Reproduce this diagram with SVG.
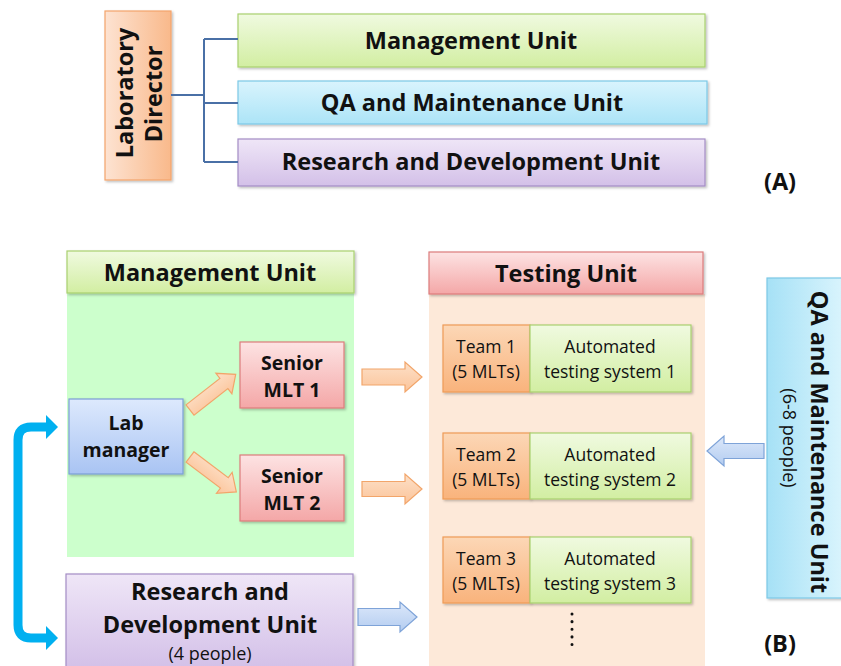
<svg xmlns="http://www.w3.org/2000/svg" width="841" height="666" viewBox="0 0 841 666">
  <defs>
    <linearGradient id="gGreen" x1="0" y1="0" x2="0" y2="1">
      <stop offset="0" stop-color="#f0fae0"/><stop offset="1" stop-color="#d2eea2"/>
    </linearGradient>
    <linearGradient id="gBlue" x1="0" y1="0" x2="0" y2="1">
      <stop offset="0" stop-color="#d9f4fd"/><stop offset="1" stop-color="#ace4f7"/>
    </linearGradient>
    <linearGradient id="gBlueH" x1="0" y1="0" x2="1" y2="0">
      <stop offset="0" stop-color="#a6e1f6"/><stop offset="1" stop-color="#dcf5fd"/>
    </linearGradient>
    <linearGradient id="gPurple" x1="0" y1="0" x2="0" y2="1">
      <stop offset="0" stop-color="#efe6f7"/><stop offset="1" stop-color="#d3c0e8"/>
    </linearGradient>
    <linearGradient id="gOrangeH" x1="0" y1="0" x2="1" y2="0">
      <stop offset="0" stop-color="#fde3d2"/><stop offset="1" stop-color="#f9b98b"/>
    </linearGradient>
    <linearGradient id="gRed" x1="0" y1="0" x2="0" y2="1">
      <stop offset="0" stop-color="#fde3e3"/><stop offset="1" stop-color="#f4a7a7"/>
    </linearGradient>
    <linearGradient id="gLab" x1="0" y1="0" x2="0" y2="1">
      <stop offset="0" stop-color="#dde9fd"/><stop offset="1" stop-color="#a9c4f3"/>
    </linearGradient>
    <linearGradient id="gTeam" x1="0" y1="0" x2="0" y2="1">
      <stop offset="0" stop-color="#fcd7b6"/><stop offset="1" stop-color="#f9b37c"/>
    </linearGradient>
    <linearGradient id="gArrowO" x1="0" y1="0" x2="0" y2="1">
      <stop offset="0" stop-color="#fde0c8"/><stop offset="1" stop-color="#fbc49a"/>
    </linearGradient>
    <linearGradient id="gArrowB" x1="0" y1="0" x2="0" y2="1">
      <stop offset="0" stop-color="#dce8fa"/><stop offset="1" stop-color="#b3ccf0"/>
    </linearGradient>
    <filter id="shadow" x="-10%" y="-10%" width="130%" height="130%">
      <feDropShadow dx="1.5" dy="1.5" stdDeviation="1.2" flood-color="#000" flood-opacity="0.25"/>
    </filter>
  </defs>
  <style>
    text { font-family: "Open Sans", "Liberation Sans", Arial, sans-serif; fill: #111; }
    .b { font-weight: bold; }
    .big { font-size: 23.5px; }
    .mid { font-size: 19.5px; }
    .sm { font-size: 17.5px; font-weight: normal; }
    .xs { font-size: 18px; font-weight: normal; }
    .box { stroke-width: 1.2; filter: url(#shadow); }
    .green { fill: url(#gGreen); stroke: #a9d06e; }
    .blue { fill: url(#gBlue); stroke: #7cc8e6; }
    .purple { fill: url(#gPurple); stroke: #a48dc5; }
    .orange { fill: url(#gOrangeH); stroke: #f4a46b; }
    .red { fill: url(#gRed); stroke: #dc7c7c; }
    .lab { fill: url(#gLab); stroke: #7c9ed6; }
    .team { fill: url(#gTeam); stroke: #ef9b57; }
    .tree { fill: none; stroke: #4a70a6; stroke-width: 2; }
    .arrO { fill: url(#gArrowO); stroke: #f2a56a; stroke-width: 1.2; }
    .arrB { fill: url(#gArrowB); stroke: #7ea3d8; stroke-width: 1.2; }
    .bracket { fill: none; stroke: #00b0f0; stroke-width: 9; }
  </style>

  <!-- (A) organisation chart -->
  <g id="lab-director">
    <rect class="box orange" x="105" y="11" width="66" height="169"/>
    <text class="b big" text-anchor="middle" transform="translate(133,93) rotate(-90)">Laboratory</text>
    <text class="b big" text-anchor="middle" transform="translate(162,94) rotate(-90)">Director</text>
  </g>
  <g id="management-unit-a">
    <rect class="box green" x="238" y="14" width="467" height="53"/>
    <text class="b big" x="471" y="49" text-anchor="middle">Management Unit</text>
  </g>
  <g id="qa-unit-a">
    <rect class="box blue" x="238" y="81" width="469" height="43"/>
    <text class="b big" x="472" y="111" text-anchor="middle">QA and Maintenance Unit</text>
  </g>
  <g id="rd-unit-a">
    <rect class="box purple" x="238" y="139" width="467" height="47"/>
    <text class="b big" x="471" y="170" text-anchor="middle">Research and Development Unit</text>
  </g>
  <text id="label-a" class="b big" x="780" y="190" text-anchor="middle">(A)</text>

  <!-- (B) unit structure -->
  <g id="management-unit-b">
    <rect x="67" y="293" width="287" height="264" fill="#ccffcc"/>
    <rect class="box green" x="67" y="251" width="287" height="42"/>
    <text class="b big" x="210" y="281" text-anchor="middle">Management Unit</text>
  </g>
  <g id="testing-unit">
    <rect x="429" y="294" width="276" height="372" fill="#fde9d9"/>
    <rect class="box red" x="429" y="252" width="274" height="42"/>
    <text class="b big" x="566" y="282" text-anchor="middle">Testing Unit</text>
  </g>
  <g id="lab-manager">
    <rect class="box lab" x="69" y="399" width="114" height="75"/>
    <text class="b mid" x="126" y="430" text-anchor="middle">Lab</text>
    <text class="b mid" x="126" y="457" text-anchor="middle">manager</text>
  </g>
  <g id="senior-mlt-1">
    <rect class="box red" x="240" y="342" width="104" height="66"/>
    <text class="b mid" x="292" y="370" text-anchor="middle">Senior</text>
    <text class="b mid" x="292" y="397" text-anchor="middle">MLT 1</text>
  </g>
  <g id="senior-mlt-2">
    <rect class="box red" x="240" y="455" width="104" height="66"/>
    <text class="b mid" x="292" y="483" text-anchor="middle">Senior</text>
    <text class="b mid" x="292" y="510" text-anchor="middle">MLT 2</text>
  </g>
  <g id="rd-unit-b">
    <rect class="box purple" x="66" y="574" width="287" height="95"/>
    <text class="b big" x="210" y="600" text-anchor="middle">Research and</text>
    <text class="b big" x="210" y="633" text-anchor="middle">Development Unit</text>
    <text class="xs" x="210" y="660" text-anchor="middle">(4 people)</text>
  </g>
  <g id="team-1">
    <rect class="box team" x="443" y="325" width="87" height="67"/>
    <rect class="box green" x="530" y="325" width="161" height="67"/>
    <text class="sm" x="486" y="353" text-anchor="middle">Team 1</text>
    <text class="sm" x="486" y="378" text-anchor="middle">(5 MLTs)</text>
    <text class="sm" x="610" y="353" text-anchor="middle">Automated</text>
    <text class="sm" x="610" y="378" text-anchor="middle">testing system 1</text>
  </g>
  <g id="team-2">
    <rect class="box team" x="443" y="433" width="87" height="66"/>
    <rect class="box green" x="530" y="433" width="161" height="66"/>
    <text class="sm" x="486" y="461" text-anchor="middle">Team 2</text>
    <text class="sm" x="486" y="486" text-anchor="middle">(5 MLTs)</text>
    <text class="sm" x="610" y="461" text-anchor="middle">Automated</text>
    <text class="sm" x="610" y="486" text-anchor="middle">testing system 2</text>
  </g>
  <g id="team-3">
    <rect class="box team" x="443" y="537" width="87" height="66"/>
    <rect class="box green" x="530" y="537" width="161" height="66"/>
    <text class="sm" x="486" y="565" text-anchor="middle">Team 3</text>
    <text class="sm" x="486" y="590" text-anchor="middle">(5 MLTs)</text>
    <text class="sm" x="610" y="565" text-anchor="middle">Automated</text>
    <text class="sm" x="610" y="590" text-anchor="middle">testing system 3</text>
  </g>
  <g id="more-teams">
    <line x1="572" y1="614" x2="572" y2="652" stroke="#111" stroke-width="3" stroke-linecap="round" stroke-dasharray="0.1 7.5"/>
  </g>
  <g id="qa-unit-b">
    <rect class="box" x="767" y="278" width="80" height="320" fill="url(#gBlueH)" stroke="#7cc8e6"/>
    <text class="b big" text-anchor="middle" transform="translate(811,442) rotate(90)">QA and Maintenance Unit</text>
    <text class="xs" text-anchor="middle" transform="translate(783,438) rotate(90)">(6-8 people)</text>
  </g>
  <text id="label-b" class="b big" x="780" y="652" text-anchor="middle">(B)</text>

  <!-- connectors -->
  <g id="connectors">
    <path class="tree" d="M171 95 H204 M204 39 V162 M204 39 H238 M204 103 H238 M204 162 H238"/>
    <path class="arrO" transform="translate(190,410) rotate(-38)" d="M0 -6.5 H43 V-13 L58 0 L43 13 V6.5 H0 Z"/>
    <path class="arrO" transform="translate(190,457) rotate(37)" d="M0 -6.5 H43 V-13 L58 0 L43 13 V6.5 H0 Z"/>
    <path class="arrO" d="M362 369 H405 V362 L422 377 L405 392 V385 H362 Z"/>
    <path class="arrO" d="M362 481.5 H405 V474 L422 489 L405 504 V496.5 H362 Z"/>
    <path class="arrB" d="M358 608.5 H400 V602 L417 617 L400 632 V625.5 H358 Z"/>
    <path class="arrB" d="M764 443.5 H724 V436 L707 451 L724 466 V458.5 H764 Z"/>
    <path class="bracket" d="M48 427 H31 Q18 427 18 440 V625 Q18 638 31 638 H48"/>
    <path d="M46 415 L58 427 L46 439 Z" fill="#00b0f0"/>
    <path d="M46 626 L58 638 L46 650 Z" fill="#00b0f0"/>
  </g>
</svg>
